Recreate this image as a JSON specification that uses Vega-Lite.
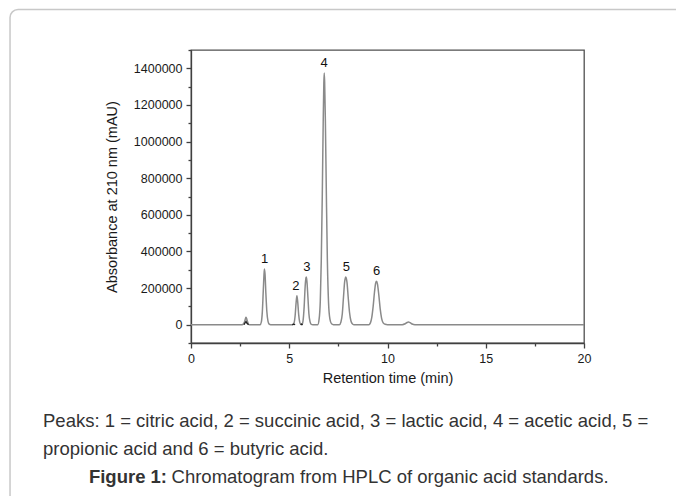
{
  "$schema": "https://vega.github.io/schema/vega-lite/v6.json",
  "width": 393,
  "height": 293,
  "autosize": {"type": "none"},
  "padding": {"left": 191, "top": 50, "right": 92, "bottom": 153},
  "background": "white",
  "config": {
    "font": "Liberation Sans",
    "view": {"stroke": "#505050", "strokeWidth": 1.3}
  },
  "resolve": {"axis": {"x": "independent", "y": "independent"}},
  "datasets": {
    "one": [{}],
    "chrom": [
      {"t": 0, "a": 0}, {"t": 2.6, "a": 0}, {"t": 2.66, "a": 3000}, {"t": 2.72, "a": 14000}, {"t": 2.77, "a": 33000}, {"t": 2.8, "a": 40000}, {"t": 2.84, "a": 30000}, {"t": 2.9, "a": 9000}, {"t": 2.97, "a": 0},
      {"t": 3.52, "a": 0}, {"t": 3.58, "a": 15000}, {"t": 3.63, "a": 70000}, {"t": 3.68, "a": 190000}, {"t": 3.72, "a": 282000}, {"t": 3.74, "a": 304000}, {"t": 3.77, "a": 272000}, {"t": 3.81, "a": 172000}, {"t": 3.86, "a": 72000}, {"t": 3.92, "a": 18000}, {"t": 3.98, "a": 3000}, {"t": 4.05, "a": 0},
      {"t": 5.18, "a": 0}, {"t": 5.25, "a": 12000}, {"t": 5.3, "a": 50000}, {"t": 5.35, "a": 122000}, {"t": 5.39, "a": 158000}, {"t": 5.43, "a": 125000}, {"t": 5.48, "a": 55000}, {"t": 5.53, "a": 15000}, {"t": 5.58, "a": 3000}, {"t": 5.64, "a": 0},
      {"t": 5.7, "a": 20000}, {"t": 5.76, "a": 100000}, {"t": 5.81, "a": 210000}, {"t": 5.85, "a": 255000}, {"t": 5.87, "a": 260000}, {"t": 5.9, "a": 236000}, {"t": 5.95, "a": 150000}, {"t": 6.0, "a": 60000}, {"t": 6.06, "a": 15000}, {"t": 6.12, "a": 2000}, {"t": 6.2, "a": 0},
      {"t": 6.45, "a": 0}, {"t": 6.52, "a": 30000}, {"t": 6.58, "a": 130000}, {"t": 6.63, "a": 350000}, {"t": 6.68, "a": 700000}, {"t": 6.73, "a": 1120000}, {"t": 6.76, "a": 1320000}, {"t": 6.78, "a": 1375000}, {"t": 6.8, "a": 1330000}, {"t": 6.84, "a": 1100000}, {"t": 6.89, "a": 700000}, {"t": 6.94, "a": 350000}, {"t": 7.0, "a": 120000}, {"t": 7.07, "a": 30000}, {"t": 7.15, "a": 5000}, {"t": 7.25, "a": 0},
      {"t": 7.55, "a": 0}, {"t": 7.63, "a": 15000}, {"t": 7.7, "a": 60000}, {"t": 7.76, "a": 150000}, {"t": 7.82, "a": 235000}, {"t": 7.88, "a": 260000}, {"t": 7.94, "a": 230000}, {"t": 8.0, "a": 150000}, {"t": 8.07, "a": 65000}, {"t": 8.14, "a": 20000}, {"t": 8.22, "a": 4000}, {"t": 8.3, "a": 0},
      {"t": 9.05, "a": 0}, {"t": 9.13, "a": 10000}, {"t": 9.2, "a": 40000}, {"t": 9.27, "a": 100000}, {"t": 9.34, "a": 180000}, {"t": 9.4, "a": 228000}, {"t": 9.44, "a": 237000}, {"t": 9.49, "a": 222000}, {"t": 9.56, "a": 160000}, {"t": 9.63, "a": 85000}, {"t": 9.7, "a": 35000}, {"t": 9.78, "a": 10000}, {"t": 9.88, "a": 2000}, {"t": 10.0, "a": 0},
      {"t": 10.75, "a": 0}, {"t": 10.9, "a": 5000}, {"t": 11.0, "a": 12000}, {"t": 11.07, "a": 14000}, {"t": 11.15, "a": 11000}, {"t": 11.25, "a": 4000}, {"t": 11.4, "a": 0}, {"t": 20, "a": 0}
    ],
    "blank": [
      {"s": "a", "t": 2.7, "a": 0}, {"s": "a", "t": 2.76, "a": 12000}, {"s": "a", "t": 2.8, "a": 18000}, {"s": "a", "t": 2.85, "a": 8000}, {"s": "a", "t": 2.93, "a": 0},
      {"s": "b", "t": 5.15, "a": 0}, {"s": "b", "t": 5.22, "a": 3000}, {"s": "b", "t": 5.3, "a": 0},
      {"s": "c", "t": 5.58, "a": 0}, {"s": "c", "t": 5.63, "a": 4000}, {"s": "c", "t": 5.68, "a": 0}
    ],
    "peaks": [
      {"label": "1", "t": 3.74, "a": 304000},
      {"label": "2", "t": 5.33, "a": 158000},
      {"label": "3", "t": 5.9, "a": 260000},
      {"label": "4", "t": 6.78, "a": 1375000},
      {"label": "5", "t": 7.9, "a": 260000},
      {"label": "6", "t": 9.45, "a": 237000}
    ]
  },
  "layer": [
    {
      "data": {"name": "chrom"},
      "mark": {"type": "line", "color": "#8a8a8a", "strokeWidth": 1.5, "interpolate": "monotone"},
      "encoding": {
        "x": {
          "field": "t", "type": "quantitative",
          "scale": {"domain": [0, 20], "nice": false, "zero": false},
          "axis": {
            "orient": "bottom",
            "title": "Retention time (min)",
            "values": [0, 2.5, 5, 7.5, 10, 12.5, 15, 17.5, 20],
            "grid": false,
            "domainColor": "#404040", "domainWidth": 1.3,
            "tickColor": "#404040", "tickWidth": 1.3,
            "tickSize": {"condition": {"test": "datum.value % 5 === 0", "value": 5}, "value": 3},
            "labelExpr": "datum.value % 5 === 0 ? datum.label : ''",
            "labelFontSize": 12.5, "labelColor": "#1a1a1a", "labelPadding": 4, "labelFlush": false,
            "titleFontSize": 14.5, "titleFontWeight": "normal", "titleColor": "#1a1a1a", "titlePadding": 7
          }
        },
        "y": {
          "field": "a", "type": "quantitative",
          "scale": {"domain": [-100000, 1500000], "nice": false, "zero": false},
          "axis": {
            "orient": "left",
            "title": "Absorbance at 210 nm (mAU)",
            "values": [-100000, 0, 100000, 200000, 300000, 400000, 500000, 600000, 700000, 800000, 900000, 1000000, 1100000, 1200000, 1300000, 1400000, 1500000],
            "format": "d",
            "grid": false,
            "domainColor": "#404040", "domainWidth": 1.3,
            "tickColor": "#404040", "tickWidth": 1.3,
            "tickSize": {"condition": {"test": "datum.value % 200000 === 0", "value": 5}, "value": 3},
            "labelExpr": "datum.value % 200000 === 0 ? datum.label : ''",
            "labelFontSize": 12.5, "labelColor": "#1a1a1a", "labelPadding": 4,
            "titleFontSize": 14.5, "titleFontWeight": "normal", "titleColor": "#1a1a1a", "titlePadding": 14
          }
        }
      }
    },
    {
      "data": {"name": "one"},
      "mark": {"type": "rect", "filled": false, "stroke": "#c8c8c8", "strokeWidth": 1.5, "cornerRadius": 8, "clip": false},
      "encoding": {
        "x": {"datum": -9.21, "type": "quantitative", "axis": null},
        "x2": {"datum": 30},
        "y": {"datum": 1721000, "type": "quantitative", "axis": null},
        "y2": {"datum": -1000000}
      }
    },
    {
      "data": {"name": "blank"},
      "mark": {"type": "line", "color": "#222222", "strokeWidth": 1.3},
      "encoding": {
        "x": {"field": "t", "type": "quantitative", "axis": null},
        "y": {"field": "a", "type": "quantitative", "axis": null},
        "detail": {"field": "s"}
      }
    },
    {
      "data": {"name": "peaks"},
      "mark": {"type": "text", "fontSize": 13, "color": "#111111", "baseline": "middle", "dy": -10},
      "encoding": {
        "x": {"field": "t", "type": "quantitative", "axis": null},
        "y": {"field": "a", "type": "quantitative", "axis": null},
        "text": {"field": "label"}
      }
    },
    {
      "data": {"name": "one"},
      "mark": {"type": "text", "fontSize": 18.5, "lineHeight": 28, "color": "#333333", "align": "left", "baseline": "alphabetic", "clip": false},
      "encoding": {
        "x": {"datum": -7.53, "type": "quantitative", "axis": null},
        "y": {"datum": -558700, "type": "quantitative", "axis": null},
        "text": {"value": ["Peaks: 1 = citric acid, 2 = succinic acid, 3 = lactic acid, 4 = acetic acid, 5 =", "propionic acid and 6 = butyric acid."]}
      }
    },
    {
      "data": {"name": "one"},
      "mark": {"type": "text", "fontSize": 18.5, "fontWeight": "bold", "color": "#333333", "align": "right", "baseline": "alphabetic", "clip": false},
      "encoding": {
        "x": {"datum": -1.22, "type": "quantitative", "axis": null},
        "y": {"datum": -864500, "type": "quantitative", "axis": null},
        "text": {"value": "Figure 1:"}
      }
    },
    {
      "data": {"name": "one"},
      "mark": {"type": "text", "fontSize": 18.5, "color": "#333333", "align": "left", "baseline": "alphabetic", "clip": false},
      "encoding": {
        "x": {"datum": -0.99, "type": "quantitative", "axis": null},
        "y": {"datum": -864500, "type": "quantitative", "axis": null},
        "text": {"value": "Chromatogram from HPLC of organic acid standards."}
      }
    }
  ]
}
